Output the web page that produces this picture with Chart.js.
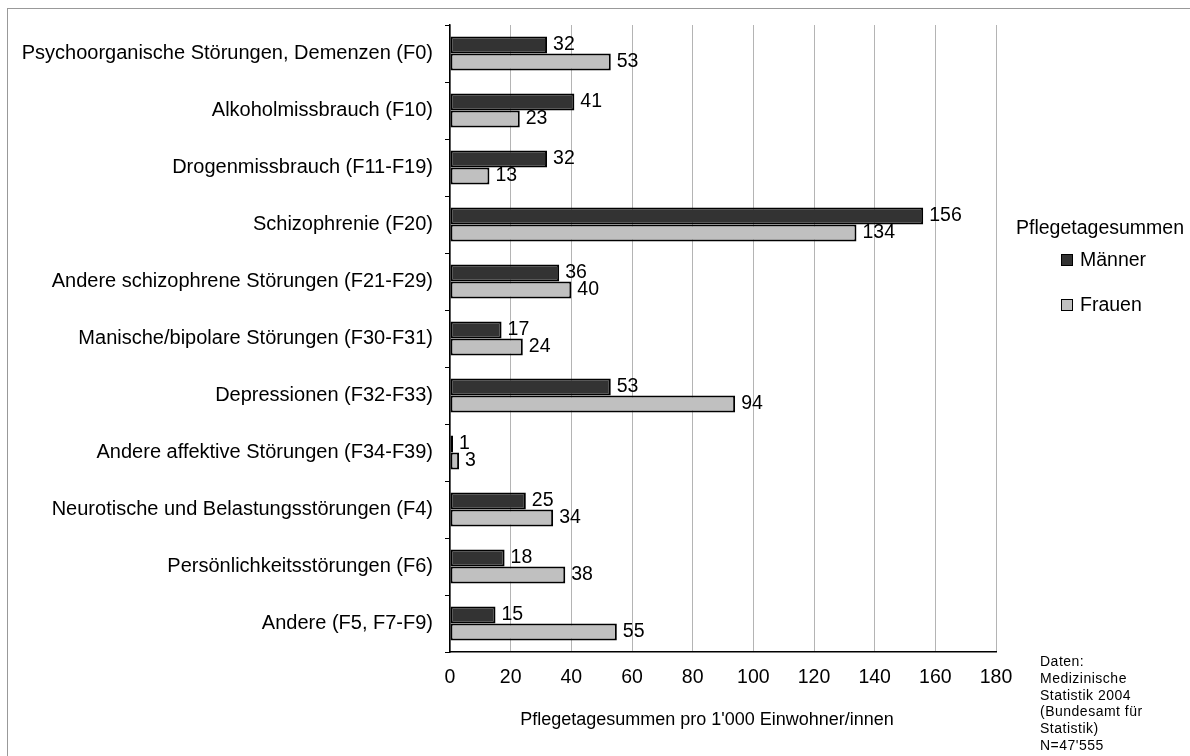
<!DOCTYPE html>
<html>
<head>
<meta charset="utf-8">
<script src="https://cdn.jsdelivr.net/npm/chart.js@4/dist/chart.umd.min.js"></script>
<style>
    body { margin: 0; background: #fff; font-family: "Liberation Sans", Arial, sans-serif; }
    #wrap { position: relative; width: 1190px; height: 756px; overflow: hidden; }
    #frame { position: absolute; left: 7px; top: 8px; right: -5px; bottom: -5px; border-left: 1px solid #999; border-top: 1px solid #999; }
    canvas { position: absolute; left: 0; top: 0; }
    .txt { position: absolute; color: #000; white-space: nowrap; }
    .sq { position: absolute; width: 10px; height: 10px; border: 1px solid #000; }
</style>
</head>
<body>
<div id="wrap">
    <div id="frame"></div>
    <canvas id="myChart" width="1190" height="756"></canvas>
    <div class="txt" id="xTitle" style="left:0; width:1414px; text-align:center; top:709px; font-size:18px;">Pflegetagesummen pro 1'000 Einwohner/innen</div>
    <div class="txt" style="left:1016px; top:216px; font-size:19.5px;">Pflegetagesummen</div>
    <div class="sq" style="left:1061px; top:254px; background:#333333;"></div>
    <div class="txt" style="left:1080px; top:248px; font-size:19.5px;">Männer</div>
    <div class="sq" style="left:1061px; top:299px; background:#c0c0c0;"></div>
    <div class="txt" style="left:1080px; top:293px; font-size:19.5px;">Frauen</div>
    <div class="txt" style="left:1040px; top:653px; font-size:14px; line-height:16.8px; letter-spacing:0.5px;">Daten:<br>Medizinische<br>Statistik 2004<br>(Bundesamt für<br>Statistik)<br>N=47'555</div>
</div>
<script>
const categories = [
    'Psychoorganische Störungen, Demenzen (F0)',
    'Alkoholmissbrauch (F10)',
    'Drogenmissbrauch (F11-F19)',
    'Schizophrenie (F20)',
    'Andere schizophrene Störungen (F21-F29)',
    'Manische/bipolare Störungen (F30-F31)',
    'Depressionen (F32-F33)',
    'Andere affektive Störungen (F34-F39)',
    'Neurotische und Belastungsstörungen (F4)',
    'Persönlichkeitsstörungen (F6)',
    'Andere (F5, F7-F9)'
];
const maenner = [32, 41, 32, 156, 36, 17, 53, 1, 25, 18, 15];
const frauen = [53, 23, 13, 134, 40, 24, 94, 3, 34, 38, 55];
const xTicks = [0, 20, 40, 60, 80, 100, 120, 140, 160, 180];

const FONT = '"Liberation Sans", Arial, sans-serif';

// value labels at the end of each bar
const valueLabels = {
    id: 'valueLabels',
    afterDatasetsDraw(chart) {
        const ctx = chart.ctx;
        ctx.save();
        ctx.font = '19.5px ' + FONT;
        ctx.fillStyle = '#000';
        ctx.textAlign = 'left';
        ctx.textBaseline = 'middle';
        chart.data.datasets.forEach((ds, i) => {
            chart.getDatasetMeta(i).data.forEach((bar, j) => {
                ctx.fillText(String(ds.data[j]), bar.x + 6, bar.y);
            });
        });
        ctx.restore();
    }
};

const ctx = document.getElementById('myChart').getContext('2d');
const chart = new Chart(ctx, {
    type: 'bar',
    data: {
        labels: categories,
        datasets: [
            { label: 'Männer', data: maenner, backgroundColor: '#333333', borderColor: '#000', borderWidth: 2, borderSkipped: false },
            { label: 'Frauen', data: frauen, backgroundColor: '#c0c0c0', borderColor: '#000', borderWidth: 2, borderSkipped: false }
        ]
    },
    options: {
        indexAxis: 'y',
        responsive: false,
        animation: false,
        datasets: { bar: { categoryPercentage: 0.6, barPercentage: 1.0 } },
        layout: { padding: { left: 0, right: 194, top: 25, bottom: 4 } },
        plugins: {
            legend: { display: false },
            tooltip: { enabled: false }
        },
        scales: {
            x: {
                min: 0,
                max: 180,
                afterBuildTicks: (s) => { s.ticks = xTicks.map(v => ({ value: v })); },
                afterFit: (s) => { s.height = 100; },
                grid: { color: '#b4b4b4', lineWidth: 1, drawTicks: false },
                border: { color: '#000', width: 1.5 },
                ticks: { color: '#000', padding: 14, font: { family: FONT, size: 19.5 } }
            },
            y: {
                afterFit: (s) => { s.width = 450; },
                grid: { offset: true, drawOnChartArea: false, drawTicks: true, tickLength: 5, color: '#000' },
                border: { color: '#000', width: 1.5 },
                ticks: { color: '#000', padding: 12, font: { family: FONT, size: 20 } }
            }
        }
    },
    plugins: [valueLabels]
});
</script>
</body>
</html>
